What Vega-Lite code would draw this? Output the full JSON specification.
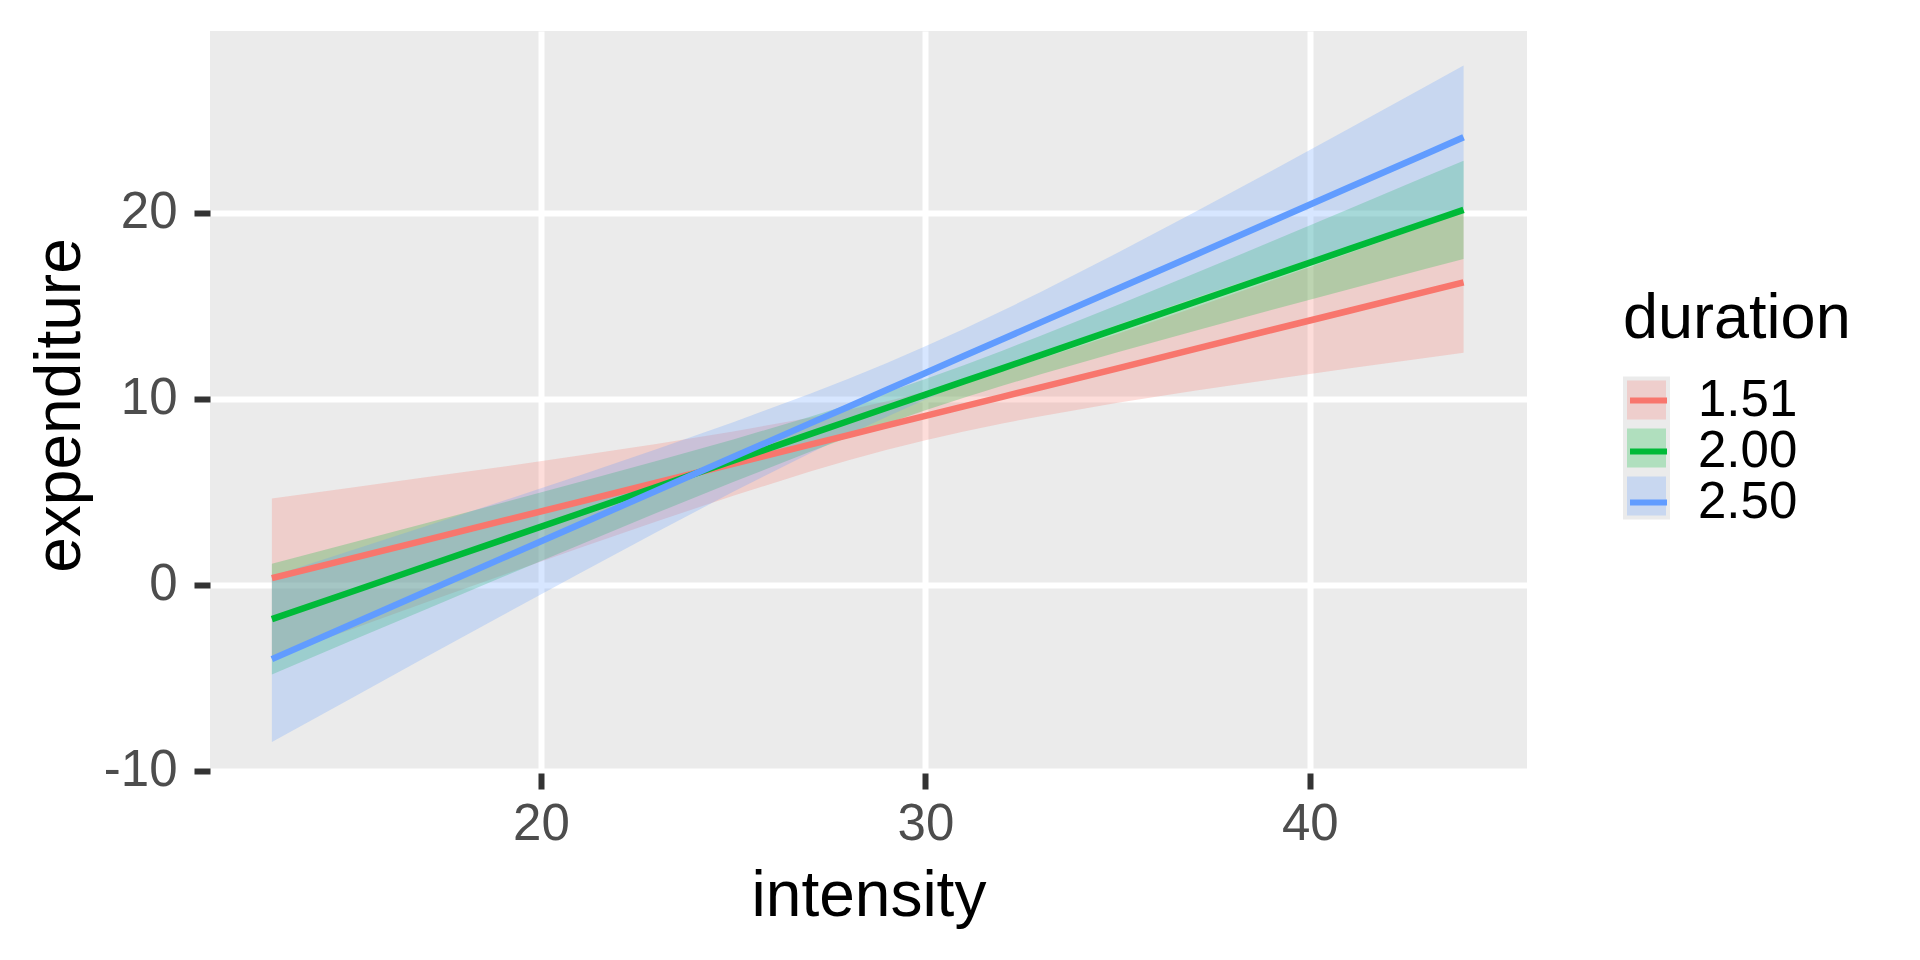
{
  "$schema": "https://vega.github.io/schema/vega-lite/v6.json",
  "width": 1317,
  "height": 742,
  "autosize": {"type": "none"},
  "padding": {"left": 210, "top": 31, "right": 393, "bottom": 187},
  "background": "white",
  "config": {"view": {"fill": "#EBEBEB", "stroke": null}, "font": "Liberation Sans"},
  "data": {"values": [
    {"intensity":13,"duration":"1.51","fit":0.35,"lower":-3.94,"upper":4.64},
    {"intensity":15,"duration":"1.51","fit":1.38,"lower":-2.45,"upper":5.20},
    {"intensity":17,"duration":"1.51","fit":2.40,"lower":-0.96,"upper":5.77},
    {"intensity":19,"duration":"1.51","fit":3.43,"lower":0.51,"upper":6.34},
    {"intensity":21,"duration":"1.51","fit":4.45,"lower":1.97,"upper":6.94},
    {"intensity":23,"duration":"1.51","fit":5.48,"lower":3.40,"upper":7.56},
    {"intensity":25,"duration":"1.51","fit":6.50,"lower":4.78,"upper":8.23},
    {"intensity":27,"duration":"1.51","fit":7.53,"lower":6.08,"upper":8.98},
    {"intensity":28,"duration":"1.51","fit":8.04,"lower":6.69,"upper":9.40},
    {"intensity":29,"duration":"1.51","fit":8.56,"lower":7.25,"upper":9.86},
    {"intensity":30,"duration":"1.51","fit":9.07,"lower":7.77,"upper":10.37},
    {"intensity":31,"duration":"1.51","fit":9.58,"lower":8.24,"upper":10.92},
    {"intensity":32,"duration":"1.51","fit":10.10,"lower":8.67,"upper":11.52},
    {"intensity":33,"duration":"1.51","fit":10.61,"lower":9.06,"upper":12.15},
    {"intensity":35,"duration":"1.51","fit":11.63,"lower":9.78,"upper":13.49},
    {"intensity":37,"duration":"1.51","fit":12.66,"lower":10.42,"upper":14.90},
    {"intensity":39,"duration":"1.51","fit":13.69,"lower":11.03,"upper":16.34},
    {"intensity":41,"duration":"1.51","fit":14.71,"lower":11.62,"upper":17.80},
    {"intensity":43,"duration":"1.51","fit":15.74,"lower":12.19,"upper":19.28},
    {"intensity":44,"duration":"1.51","fit":16.25,"lower":12.47,"upper":20.03},
    {"intensity":13,"duration":"2.00","fit":-1.85,"lower":-4.82,"upper":1.12},
    {"intensity":15,"duration":"2.00","fit":-0.43,"lower":-3.07,"upper":2.21},
    {"intensity":17,"duration":"2.00","fit":0.99,"lower":-1.33,"upper":3.30},
    {"intensity":19,"duration":"2.00","fit":2.41,"lower":0.41,"upper":4.40},
    {"intensity":21,"duration":"2.00","fit":3.83,"lower":2.14,"upper":5.52},
    {"intensity":23,"duration":"2.00","fit":5.25,"lower":3.85,"upper":6.65},
    {"intensity":25,"duration":"2.00","fit":6.67,"lower":5.52,"upper":7.81},
    {"intensity":27,"duration":"2.00","fit":8.09,"lower":7.14,"upper":9.03},
    {"intensity":28,"duration":"2.00","fit":8.80,"lower":7.92,"upper":9.67},
    {"intensity":29,"duration":"2.00","fit":9.51,"lower":8.66,"upper":10.35},
    {"intensity":30,"duration":"2.00","fit":10.22,"lower":9.37,"upper":11.06},
    {"intensity":31,"duration":"2.00","fit":10.93,"lower":10.05,"upper":11.80},
    {"intensity":32,"duration":"2.00","fit":11.63,"lower":10.69,"upper":12.58},
    {"intensity":33,"duration":"2.00","fit":12.34,"lower":11.31,"upper":13.38},
    {"intensity":35,"duration":"2.00","fit":13.76,"lower":12.50,"upper":15.03},
    {"intensity":37,"duration":"2.00","fit":15.18,"lower":13.64,"upper":16.72},
    {"intensity":39,"duration":"2.00","fit":16.60,"lower":14.76,"upper":18.44},
    {"intensity":41,"duration":"2.00","fit":18.02,"lower":15.87,"upper":20.18},
    {"intensity":43,"duration":"2.00","fit":19.44,"lower":16.97,"upper":21.92},
    {"intensity":44,"duration":"2.00","fit":20.15,"lower":17.51,"upper":22.79},
    {"intensity":13,"duration":"2.50","fit":-4.00,"lower":-8.46,"upper":0.46},
    {"intensity":15,"duration":"2.50","fit":-2.19,"lower":-6.18,"upper":1.80},
    {"intensity":17,"duration":"2.50","fit":-0.38,"lower":-3.90,"upper":3.14},
    {"intensity":19,"duration":"2.50","fit":1.43,"lower":-1.64,"upper":4.50},
    {"intensity":21,"duration":"2.50","fit":3.24,"lower":0.60,"upper":5.87},
    {"intensity":23,"duration":"2.50","fit":5.05,"lower":2.82,"upper":7.28},
    {"intensity":25,"duration":"2.50","fit":6.86,"lower":4.99,"upper":8.73},
    {"intensity":27,"duration":"2.50","fit":8.67,"lower":7.07,"upper":10.26},
    {"intensity":28,"duration":"2.50","fit":9.57,"lower":8.07,"upper":11.07},
    {"intensity":29,"duration":"2.50","fit":10.48,"lower":9.03,"upper":11.92},
    {"intensity":30,"duration":"2.50","fit":11.38,"lower":9.95,"upper":12.81},
    {"intensity":31,"duration":"2.50","fit":12.29,"lower":10.83,"upper":13.75},
    {"intensity":32,"duration":"2.50","fit":13.19,"lower":11.66,"upper":14.72},
    {"intensity":33,"duration":"2.50","fit":14.10,"lower":12.46,"upper":15.73},
    {"intensity":35,"duration":"2.50","fit":15.91,"lower":13.97,"upper":17.84},
    {"intensity":37,"duration":"2.50","fit":17.71,"lower":15.41,"upper":20.02},
    {"intensity":39,"duration":"2.50","fit":19.52,"lower":16.80,"upper":22.24},
    {"intensity":41,"duration":"2.50","fit":21.33,"lower":18.17,"upper":24.49},
    {"intensity":43,"duration":"2.50","fit":23.14,"lower":19.53,"upper":26.76},
    {"intensity":44,"duration":"2.50","fit":24.05,"lower":20.20,"upper":27.90}
  ]},
  "layer": [
    {
      "mark": {"type": "area", "fillOpacity": 0.25, "strokeWidth": 0},
      "encoding": {
        "x": {
          "field": "intensity", "type": "quantitative", "title": "intensity",
          "scale": {"domain": [11.39, 45.65], "nice": false, "zero": false},
          "axis": {
            "values": [20, 30, 40], "grid": true, "gridColor": "white", "gridWidth": 6,
            "domain": false, "tickColor": "#333333", "tickWidth": 6, "tickSize": 16,
            "labelFontSize": 51, "labelColor": "#4D4D4D", "labelPadding": 10,
            "labelFont": "Liberation Sans", "labelFlush": false, "labelOverlap": false,
            "labelExpr": "toString(datum.value)",
            "titleFont": "Liberation Sans", "titleFontSize": 64, "titleColor": "black",
            "titleFontWeight": "normal", "titleBaseline": "alphabetic", "titleY": 142, "titleX": 658.5
          }
        },
        "y": {
          "field": "lower", "type": "quantitative", "title": "expenditure",
          "scale": {"domain": [-10.12, 29.76], "nice": false, "zero": false},
          "axis": {
            "values": [-10, 0, 10, 20], "grid": true, "gridColor": "white", "gridWidth": 6,
            "domain": false, "tickColor": "#333333", "tickWidth": 6, "tickSize": 16,
            "labelFontSize": 51, "labelColor": "#4D4D4D", "labelPadding": 17,
            "labelFont": "Liberation Sans", "labelOverlap": false,
            "labelExpr": "toString(datum.value)",
            "titleFont": "Liberation Sans", "titleFontSize": 64, "titleColor": "black",
            "titleFontWeight": "normal", "titleAngle": 270, "titleBaseline": "alphabetic",
            "titleAlign": "center", "titleX": -131, "titleY": 374
          }
        },
        "y2": {"field": "upper"},
        "fill": {
          "field": "duration", "type": "nominal",
          "scale": {"range": ["#F8766D", "#00BA38", "#619CFF"]},
          "legend": null
        }
      }
    },
    {
      "mark": {"type": "point", "filled": true, "opacity": 0, "shape": "square"},
      "encoding": {
        "x": {"field": "intensity", "type": "quantitative", "title": "intensity"},
        "y": {"field": "fit", "type": "quantitative", "title": "expenditure"},
        "color": {
          "field": "duration", "type": "nominal",
          "scale": {"range": ["#EECECC", "#B0DFBE", "#C8D7F0"]},
          "legend": {
            "title": null, "orient": "none", "legendX": 1413, "legendY": 345.4, "padding": 4,
            "fillColor": "#EBEBEB", "strokeColor": null,
            "labelExpr": "''", "labelFontSize": 1, "labelOffset": 0, "labelLimit": 10,
            "rowPadding": 9, "symbolType": "square", "symbolSize": 1521,
            "symbolStrokeWidth": 0, "symbolOpacity": 1, "zindex": 0
          }
        }
      }
    },
    {
      "mark": {"type": "line", "strokeWidth": 6.5},
      "encoding": {
        "x": {"field": "intensity", "type": "quantitative", "title": "intensity"},
        "y": {"field": "fit", "type": "quantitative", "title": "expenditure"},
        "stroke": {
          "field": "duration", "type": "nominal",
          "scale": {"domain": ["1.51", "2.00", "2.50"], "range": ["#F8766D", "#00BA38", "#619CFF"]},
          "legend": {
            "title": "duration", "orient": "none", "legendX": 1413, "legendY": 257, "padding": 0,
            "titleFont": "Liberation Sans", "titleFontSize": 63, "titleColor": "black",
            "titleFontWeight": "normal", "titlePadding": 24, "titleBaseline": "top", "titleLimit": 600,
            "labelFont": "Liberation Sans", "labelFontSize": 51, "labelColor": "black",
            "labelOffset": 24, "labelLimit": 400, "rowPadding": -7.7,
            "symbolType": "stroke", "symbolSize": 1369, "symbolStrokeWidth": 6, "zindex": 1
          }
        }
      }
    }
  ]
}
